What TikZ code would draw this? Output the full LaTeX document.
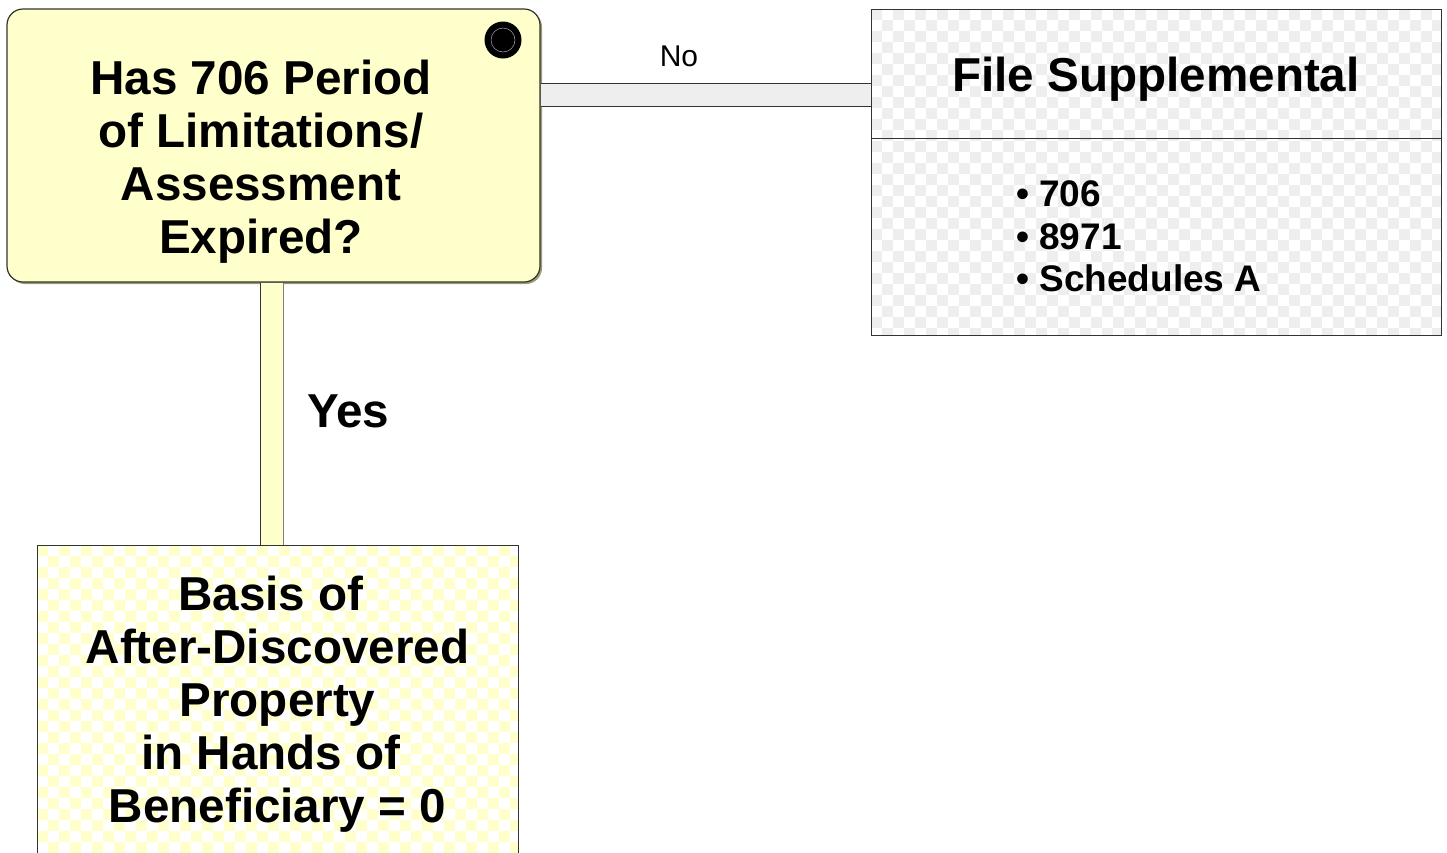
\documentclass[tikz,border=0pt]{standalone}
\usepackage{fontspec}
\setmainfont{Liberation Sans}
\usetikzlibrary{shadows}
\definecolor{qyellow}{HTML}{FFFFCC}
\definecolor{cgray}{HTML}{EEEEEE}
\definecolor{edge}{HTML}{333333}
\definecolor{olivesh}{HTML}{9C9C6C}
\tikzset{
  bigtext/.style={font=\bfseries\fontsize{47.6}{53}\selectfont, inner sep=0pt},
  listtext/.style={font=\bfseries\fontsize{37}{42.5}\selectfont, inner sep=0pt},
  smalltext/.style={font=\fontsize{30}{36}\selectfont, inner sep=0pt},
  plainbox/.style={draw=edge, line width=1pt, inner sep=0pt},
  bar/.style={draw=edge, line width=1pt, double distance=22pt},
}
\begin{document}
\begin{tikzpicture}[x=1pt,y=-1pt]
\useasboundingbox (0,0) rectangle (1447,852);
\clip (0,0) rectangle (1447,852);

% checkerboard of the right box
\begin{scope}
\clip (871,9) rectangle (1441,335);
\fill[white] (871,9) rectangle (1441,335);
\foreach \j in {0,...,29}{
  \pgfmathtruncatemacro\s{mod(\j,2)}
  \pgfmathtruncatemacro\t{\s+2}
  \foreach \i in {\s,\t,...,52}{
    \fill[cgray] ({871+11*\i},{9+11*\j}) rectangle ++(11,11);
  }
}
\end{scope}

% checkerboard of the bottom box
\begin{scope}
\clip (37,545) rectangle (518,852);
\fill[white] (37,545) rectangle (518,852);
\foreach \j in {0,...,28}{
  \pgfmathtruncatemacro\s{mod(\j,2)}
  \pgfmathtruncatemacro\t{\s+2}
  \foreach \i in {\s,\t,...,44}{
    \fill[qyellow] ({37+11*\i},{545+11*\j}) rectangle ++(11,11);
  }
}
\end{scope}

% decision box
\node[draw=edge, line width=1.2pt, rounded corners=16pt, fill=qyellow,
      minimum width=533pt, minimum height=273pt, inner sep=0pt,
      drop shadow={shadow xshift=2pt, shadow yshift=-2pt, fill=olivesh, opacity=1}]
      (q) at (273.5,145.5) {};
\node[circle, fill=black, minimum size=37pt, inner sep=0pt] (dot) at (503,40) {};
\draw[gray!70, line width=0.5pt] (dot.center) circle (12);
\node[bigtext, align=center] (qt) at (261,162)
  {Has 706 Period\\of Limitations/\\Assessment\\Expired?};

% right box
\node[plainbox, minimum width=570pt, minimum height=326pt] (fs) at (1156,172) {};
\coordinate (dv) at (0,138);
\draw[edge, line width=1pt] (fs.west |- dv) -- (fs.east |- dv);
\node[bigtext, anchor=base] (fst) at (1156,91) {File Supplemental};
\node[listtext, align=left, anchor=west] (fsl) at (1016,236.5)
  {• 706\\• 8971\\• Schedules A};

% bottom box
\node[plainbox, minimum width=481pt, minimum height=340pt] (b) at (277.5,715) {};
\node[bigtext, align=center] (bt) at (277.5,704)
  {Basis of\hbox{\ }\\After-Discovered\\Property\\in Hands of\hbox{\ }\\Beneficiary = 0};

% connectors
\coordinate (hy) at (0,94.5);
\draw[bar, double=cgray] (q.east |- hy) -- (fs.west |- hy);
\coordinate (vx) at (272,0);
\coordinate (vxr) at (283.5,0);
\draw[bar, double=qyellow] (q.south -| vx) -- (b.north -| vx);
\draw[gray, line width=1pt] (q.south -| vxr) -- (b.north -| vxr);

% labels
\node[smalltext, anchor=base] (no) at (679,66) {No};
\node[bigtext, anchor=base west] (yes) at (307,427) {Yes};
\end{tikzpicture}
\end{document}
